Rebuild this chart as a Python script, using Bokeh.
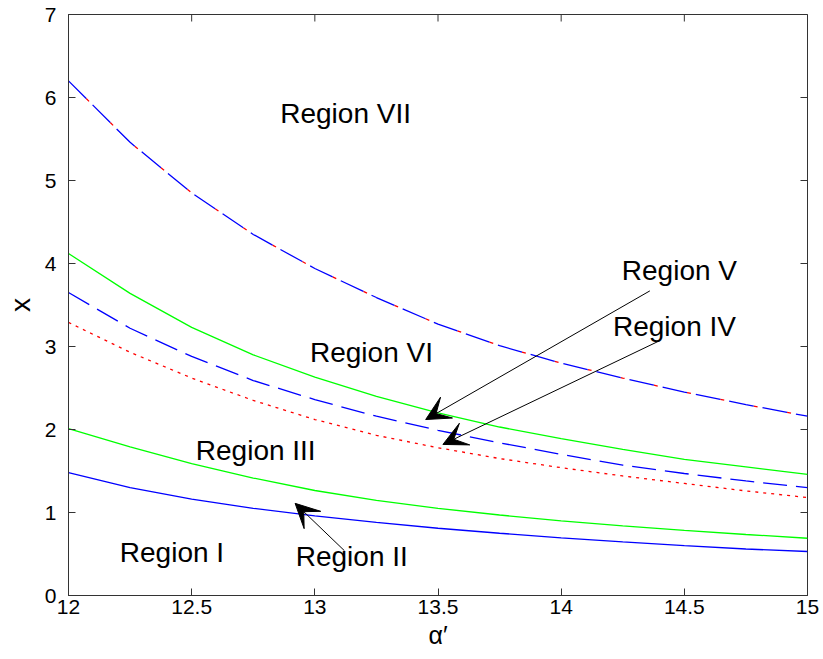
import math
from bokeh.plotting import figure
from bokeh.models import Range1d, Arrow, VeeHead, Label, FixedTicker
from bokeh.embed import file_html
from bokeh.resources import INLINE

# ---- data ----
alpha = [12.0, 12.25, 12.5, 12.75, 13.0, 13.25, 13.5, 13.75, 14.0, 14.25, 14.5, 14.75, 15.0]
curve_vii = [6.20, 5.46, 4.85, 4.35, 3.94, 3.59, 3.27, 3.01, 2.80, 2.62, 2.45, 2.30, 2.16]
curve_v = [4.12, 3.64, 3.23, 2.90, 2.63, 2.40, 2.20, 2.03, 1.89, 1.76, 1.64, 1.55, 1.46]
curve_iv = [3.65, 3.22, 2.88, 2.59, 2.36, 2.16, 1.99, 1.84, 1.70, 1.57, 1.47, 1.38, 1.30]
curve_iv_low = [3.29, 2.93, 2.62, 2.35, 2.12, 1.93, 1.78, 1.65, 1.54, 1.44, 1.35, 1.26, 1.18]
curve_iii = [2.01, 1.79, 1.59, 1.415, 1.265, 1.145, 1.05, 0.97, 0.90, 0.84, 0.785, 0.735, 0.69]
curve_ii = [1.48, 1.30, 1.16, 1.05, 0.96, 0.88, 0.81, 0.75, 0.695, 0.645, 0.60, 0.56, 0.53]

x_ticks = [12, 12.5, 13, 13.5, 14, 14.5, 15]
x_tick_labels = ["12", "12.5", "13", "13.5", "14", "14.5", "15"]
y_ticks = [0, 1, 2, 3, 4, 5, 6, 7]
y_tick_labels = ["0", "1", "2", "3", "4", "5", "6", "7"]

region_names = ["Region VII", "Region VI", "Region V", "Region IV", "Region III", "Region II", "Region I"]
region_x = [13.125, 13.23, 14.48, 14.46, 12.76, 13.15, 12.42]
region_y = [5.81, 2.93, 3.92, 3.24, 1.75, 0.47, 0.52]

arrow_x_start = [14.36, 14.40, 13.12]
arrow_y_start = [3.67, 3.07, 0.54]
arrow_x_end = [13.45, 13.52, 12.92]
arrow_y_end = [2.12, 1.82, 1.11]

FONT = "Liberation Sans"
AX = "#333333"

p = figure(width=823, height=659, x_range=Range1d(12, 15), y_range=Range1d(0, 7),
           output_backend="svg", toolbar_location=None,
           min_border_left=68, min_border_right=16, min_border_top=14, min_border_bottom=64)
p.grid.visible = False
p.outline_line_color = AX
p.background_fill_color = "white"
p.border_fill_color = "white"

def style_axis(ax, ticks, labels):
    ax.ticker = FixedTicker(ticks=ticks)
    ax.major_label_overrides = {t: l for t, l in zip(ticks, labels)}
    ax.major_tick_in = 7
    ax.major_tick_out = 0
    ax.minor_tick_line_color = None
    ax.axis_line_color = AX
    ax.major_tick_line_color = AX
    ax.major_label_text_font = FONT
    ax.major_label_text_color = "black"
    ax.major_label_text_font_size = "21px"
    ax.axis_label_text_font = FONT
    ax.axis_label_text_font_style = "normal"
    ax.axis_label_text_color = "black"

style_axis(p.xaxis[0], x_ticks, x_tick_labels)
style_axis(p.yaxis[0], y_ticks, y_tick_labels)
p.xaxis[0].major_label_standoff = 4
p.yaxis[0].major_label_standoff = 12
p.xaxis[0].axis_label = "\u03b1\u2032"
p.xaxis[0].axis_label_text_font_size = "25px"
p.xaxis[0].axis_label_standoff = 4
p.yaxis[0].axis_label = "x"
p.yaxis[0].axis_label_text_font_size = "28px"
p.yaxis[0].axis_label_standoff = 6

# inward ticks on the right and top edges of the box (clipped to the frame)
p.scatter(x=[x_ticks[-1]] * len(y_ticks), y=y_ticks, marker="dash", size=14,
          line_color=AX, line_width=1)
p.scatter(x=x_ticks, y=[y_ticks[-1]] * len(x_ticks), marker="dash", size=14,
          angle=math.pi / 2, line_color=AX, line_width=1)

BLUE, GREEN, RED = "#0000ff", "#00ff00", "#ff0000"
LW = 1.3

# Region VII boundary: blue long dashes with short red pieces
p.line(alpha, curve_vii, line_color=RED, line_width=LW, line_dash="4 30", line_dash_offset=9)
p.line(alpha, curve_vii, line_color=BLUE, line_width=LW, line_dash="25 9")
# Region V / VI boundary
p.line(alpha, curve_v, line_color=GREEN, line_width=LW)
# Region IV (dashed blue) and lower dotted red
p.line(alpha, curve_iv, line_color=BLUE, line_width=LW, line_dash="24 9")
p.line(alpha, curve_iv_low, line_color=RED, line_width=LW, line_dash="3 5")
# Region II / III boundaries
p.line(alpha, curve_iii, line_color=GREEN, line_width=LW)
p.line(alpha, curve_ii, line_color=BLUE, line_width=LW)

for name, x, y in zip(region_names, region_x, region_y):
    p.add_layout(Label(x=x, y=y, text=name, text_font=FONT, text_font_size="28px",
                       text_color="black", text_align="center", text_baseline="middle"))

for xs, ys, xe, ye in zip(arrow_x_start, arrow_y_start, arrow_x_end, arrow_y_end):
    p.add_layout(Arrow(end=VeeHead(size=24, fill_color="black", line_color="black", line_width=1),
                       x_start=xs, y_start=ys, x_end=xe, y_end=ye,
                       line_color="black", line_width=1))

open("out.html", "w").write(file_html(p, INLINE))
